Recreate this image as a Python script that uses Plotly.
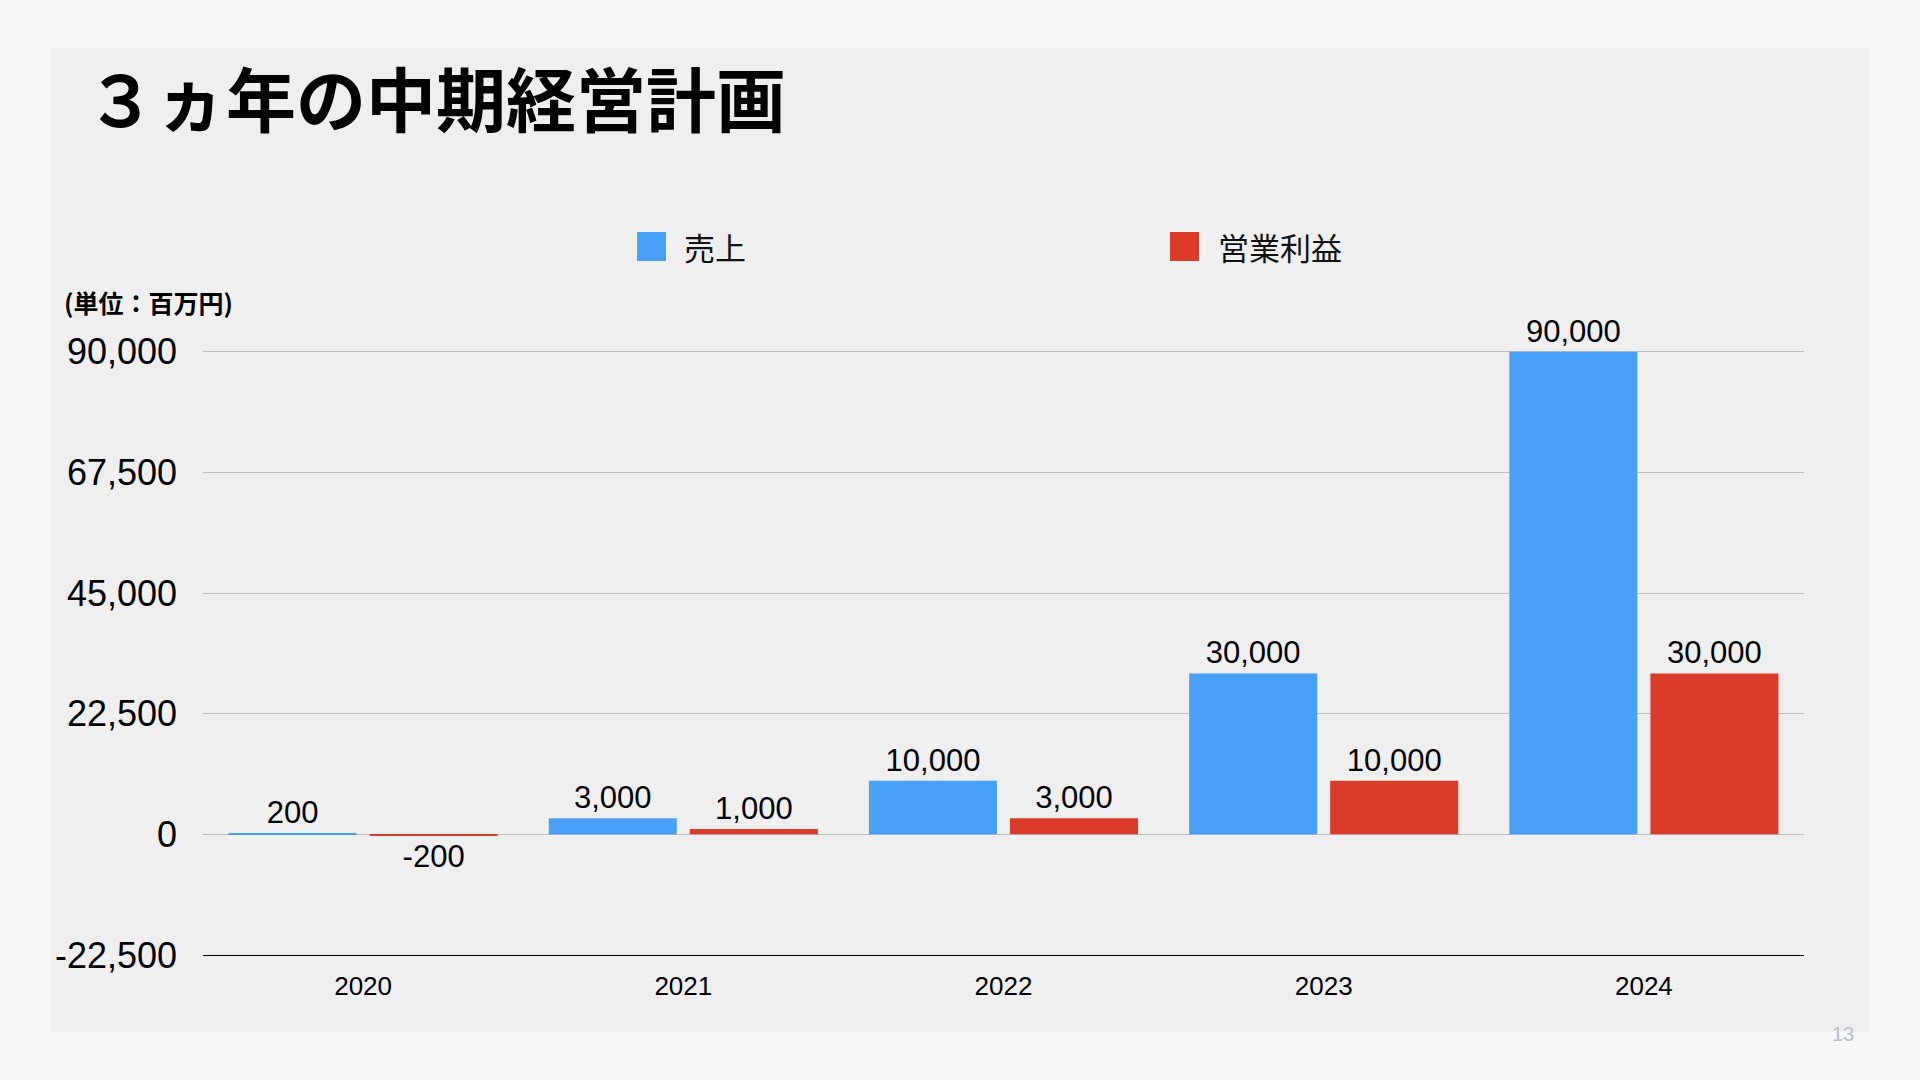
import plotly.graph_objects as go

# ---- data ----
years = ["2020", "2021", "2022", "2023", "2024"]
sales = [200, 3000, 10000, 30000, 90000]
op_profit = [-200, 1000, 3000, 10000, 30000]
series_names = ["売上", "営業利益"]
y_tickvals = [-22500, 0, 22500, 45000, 67500, 90000]
y_ticktext = ["-22,500", "0", "22,500", "45,000", "67,500", "90,000"]
title_text = "３ヵ年の中期経営計画"
unit_text = "(単位：百万円)"
page_no = "13"

# ---- styling ----
W, H = 1920, 1080
L, R, T, B = 203, 1804, 349, 955
BLUE = "#48A0F7"
RED = "#DB3C29"
LAT = "Liberation Sans, Arial, Helvetica, sans-serif"
CJK = "Noto Sans CJK JP, sans-serif"


def px_x(px):
    return (px - L) / (R - L)


def px_y(py):
    return (B - py) / (B - T)


fig = go.Figure()
for name, vals, col in [(series_names[0], sales, BLUE), (series_names[1], op_profit, RED)]:
    fig.add_trace(go.Bar(
        name=name, x=years, y=vals, marker=dict(color=col, line=dict(width=0)),
        text=[f"{v:,}" for v in vals], textposition="outside",
        textfont=dict(family=LAT, size=31, color="#000"),
        cliponaxis=False, showlegend=False,
    ))

shapes = [
    dict(type="rect", xref="paper", yref="paper", x0=px_x(51), x1=px_x(1869),
         y0=px_y(1032), y1=px_y(48), fillcolor="#EFEFEF", line=dict(width=0), layer="below"),
    dict(type="rect", xref="paper", yref="paper", x0=px_x(637), x1=px_x(666),
         y0=px_y(261), y1=px_y(232), fillcolor=BLUE, line=dict(width=0)),
    dict(type="rect", xref="paper", yref="paper", x0=px_x(1170), x1=px_x(1199),
         y0=px_y(261), y1=px_y(232), fillcolor=RED, line=dict(width=0)),
]

annotations = [
    dict(text=f"<b>{title_text}</b>", xref="paper", yref="paper", x=px_x(84), y=px_y(96),
         xanchor="left", yanchor="middle", showarrow=False,
         font=dict(family=CJK, size=70, color="#000")),
    dict(text=series_names[0], xref="paper", yref="paper", x=px_x(682), y=px_y(246),
         xanchor="left", yanchor="middle", showarrow=False,
         font=dict(family=CJK, size=31, color="#111")),
    dict(text=series_names[1], xref="paper", yref="paper", x=px_x(1216), y=px_y(246),
         xanchor="left", yanchor="middle", showarrow=False,
         font=dict(family=CJK, size=31, color="#111")),
    dict(text=f"<b>{unit_text}</b>", xref="paper", yref="paper", x=px_x(62), y=px_y(302),
         xanchor="left", yanchor="middle", showarrow=False,
         font=dict(family=CJK, size=25, color="#000")),
    dict(text=page_no, xref="paper", yref="paper", x=px_x(1843), y=px_y(1034),
         xanchor="center", yanchor="middle", showarrow=False,
         font=dict(family=LAT, size=20, color="#B9BEC6")),
]

fig.update_layout(
    width=W, height=H,
    margin=dict(l=L, r=W - R, t=T, b=H - B, pad=0),
    paper_bgcolor="#F7F7F7", plot_bgcolor="#EFEFEF",
    barmode="group", bargap=0.119, bargroupgap=0.092,
    showlegend=False,
    shapes=shapes, annotations=annotations,
    xaxis=dict(showgrid=False, showline=True, linecolor="#000", linewidth=1,
               ticks="", tickfont=dict(family=LAT, size=26, color="#000"),
               ticklabelstandoff=8, fixedrange=True),
    yaxis=dict(range=[-22500, 90500], tickvals=y_tickvals, ticktext=y_ticktext,
               showgrid=True, gridcolor="#BDBDBD", gridwidth=1,
               zeroline=True, zerolinecolor="#BDBDBD", zerolinewidth=1,
               showline=False, ticks="",
               tickfont=dict(family=LAT, size=36, color="#000"),
               ticklabelstandoff=25, fixedrange=True),
)

fig.write_html(
    "out.html",
    config={"displayModeBar": False},
    post_script="document.body.style.margin='0';document.body.style.background='#F7F7F7';",
)
